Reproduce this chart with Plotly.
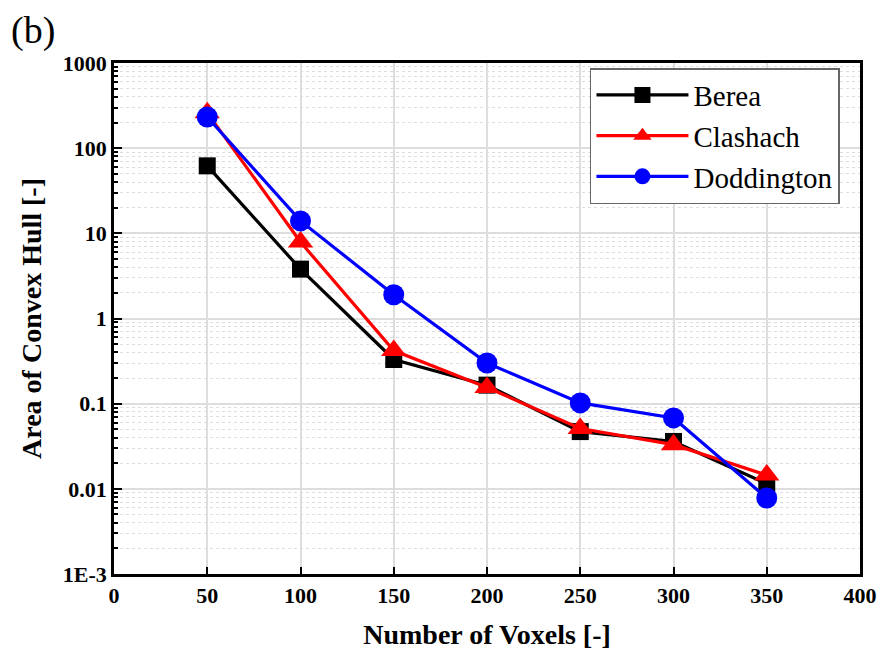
import plotly.graph_objects as go

voxels = [50, 100, 150, 200, 250, 300, 350]
berea = [62, 3.8, 0.33, 0.165, 0.047, 0.036, 0.0115]
clashach = [260, 7.9, 0.42, 0.155, 0.051, 0.033, 0.0145]
doddington = [232, 14.0, 1.9, 0.30, 0.102, 0.068, 0.0078]

y_tick_vals = [1e-3, 1e-2, 1e-1, 1, 10, 100, 1000]
y_tick_text = ["1E-3", "0.01", "0.1", "1", "10", "100", "1000"]
x_tick_vals = [0, 50, 100, 150, 200, 250, 300, 350, 400]

minor_vals = []
for dec in y_tick_vals[:-1]:
    for m in range(2, 10):
        minor_vals.append(dec * m)

FONT = "Liberation Serif"

fig = go.Figure()
series = [
    ("Berea", berea, "black", "square", 17),
    ("Clashach", clashach, "red", "triangle-up", 22),
    ("Doddington", doddington, "blue", "circle", 21),
]
for name, vals, col, sym, sz in series:
    fig.add_trace(go.Scatter(
        x=voxels, y=vals, name=name, mode="lines+markers",
        line=dict(color=col, width=3.2),
        marker=dict(symbol=sym, size=sz, color=col, line=dict(width=0)),
    ))

fig.update_layout(
    width=879, height=650,
    margin=dict(l=114, r=19, t=63, b=76, autoexpand=False),
    plot_bgcolor="white", paper_bgcolor="white",
    font=dict(family=FONT, color="black"),
    showlegend=True,
    legend=dict(
        x=0.638, y=0.99, xanchor="left", yanchor="top",
        bgcolor="white", bordercolor="#666666", borderwidth=1.5,
        font=dict(family=FONT, size=29, color="black"),
        itemwidth=92, tracegroupgap=0,
    ),
    annotations=[dict(
        text="(b)", xref="paper", yref="paper", x=-0.141, y=1.11,
        xanchor="left", yanchor="top", showarrow=False,
        font=dict(family=FONT, size=38, color="black"),
    )],
)

fig.update_xaxes(
    range=[0, 400], tickmode="array", tickvals=x_tick_vals,
    ticks="inside", ticklen=7, tickwidth=2, tickcolor="black",
    showline=True, linecolor="black", linewidth=2.5, mirror=True,
    showgrid=True, gridcolor="#dddddd", gridwidth=1.5, zeroline=False,
    automargin=False,
    tickfont=dict(family=FONT, size=22, color="black", weight="bold"),
    title=dict(text="Number of Voxels [-]", standoff=20,
               font=dict(family=FONT, size=28, color="black", weight="bold")),
)
fig.update_yaxes(
    type="log", range=[-3, 3], tickmode="array",
    tickvals=y_tick_vals, ticktext=y_tick_text,
    ticks="inside", ticklen=8, tickwidth=2, tickcolor="black",
    showline=True, linecolor="black", linewidth=2.5, mirror=True,
    showgrid=True, gridcolor="#dddddd", gridwidth=1.5, zeroline=False,
    automargin=False,
    minor=dict(tickmode="array", tickvals=minor_vals, ticks="inside",
               ticklen=4, tickwidth=1.5, tickcolor="black",
               showgrid=True, gridcolor="#dddddd", griddash="dot", gridwidth=1),
    tickfont=dict(family=FONT, size=22, color="black", weight="bold"),
    title=dict(text="Area of Convex Hull [-]", standoff=14,
               font=dict(family=FONT, size=28, color="black", weight="bold")),
)

fig.write_html("out.html")
